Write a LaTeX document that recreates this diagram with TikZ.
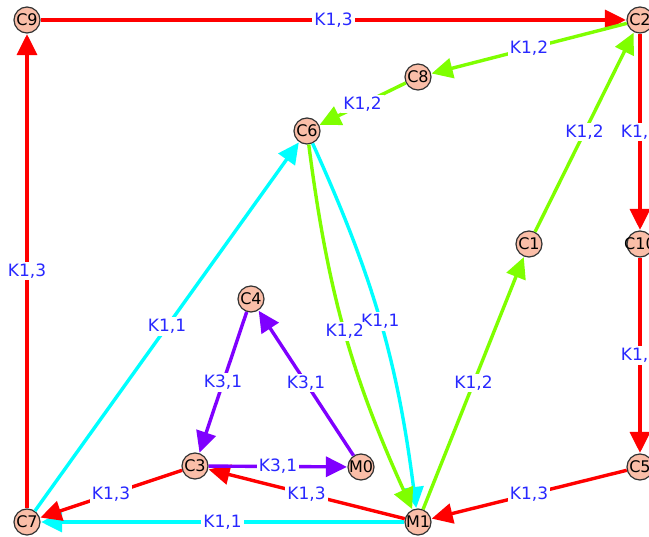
\documentclass[tikz,border=0pt]{standalone}
\usepackage{fontspec}
\setmainfont{DejaVu Sans}
\usetikzlibrary{arrows.meta}
\definecolor{nodefill}{RGB}{250,190,168}
\definecolor{lblblue}{RGB}{40,40,255}
\definecolor{ered}{RGB}{255,0,0}
\definecolor{egreen}{RGB}{127,255,0}
\definecolor{ecyan}{RGB}{0,255,255}
\definecolor{epurple}{RGB}{127,0,255}
\tikzset{
  x=1pt,y=-1pt,
  vnode/.style={circle,draw=black!80,line width=1.2pt,fill=nodefill,minimum size=26pt,inner sep=0pt,font=\fontsize{16}{16}\selectfont},
  edge/.style={line width=3.4pt,-{Triangle[length=21pt,width=20pt]},shorten >=0.5pt},
  lbl/.style={fill=white,text=lblblue,inner sep=2pt,font=\fontsize{17}{17}\selectfont,midway},
}
\newcommand{\vn}[1]{\makebox[0pt]{#1}}
\begin{document}
\begin{tikzpicture}
\useasboundingbox (0,0) rectangle (649,537);
\clip (0,0) rectangle (649,537);
\fill[white] (0,0) rectangle (649,537);
\node[vnode] (C9) at (27,20) {\vn{C9}};
\node[vnode] (C2) at (640,20) {\vn{C2}};
\node[vnode] (C8) at (418,77) {\vn{C8}};
\node[vnode] (C6) at (307,131) {\vn{C6}};
\node[vnode] (C1) at (529,244) {\vn{C1}};
\node[vnode] (C10) at (640,244) {\vn{C10}};
\node[vnode] (C4) at (251,299) {\vn{C4}};
\node[vnode] (C3) at (195,466) {\vn{C3}};
\node[vnode] (M0) at (361,467) {\vn{M0}};
\node[vnode] (C5) at (640,467) {\vn{C5}};
\node[vnode] (C7) at (27,522) {\vn{C7}};
\node[vnode] (M1) at (418,522) {\vn{M1}};
% edges
\draw[edge,ered] (C9) -- (C2) node[lbl] {K1,3};
\draw[edge,egreen] (C2) -- (C8) node[lbl] {K1,2};
\draw[edge,egreen] (C8) -- (C6) node[lbl] {K1,2};
\draw[edge,ered] (C2) -- (C10) node[lbl] {K1,3};
\draw[edge,ered] (C10) -- (C5) node[lbl] {K1,3};
\draw[edge,ered] (C5) -- (M1) node[lbl] {K1,3};
\draw[edge,egreen] (M1) -- (C1) node[lbl] {K1,2};
\draw[edge,egreen] (C1) -- (C2) node[lbl] {K1,2};
\draw[edge,ecyan] (C6) to[bend left=8.5] node[lbl] {K1,1} (M1);
\draw[edge,egreen] (C6) to[bend right=8.5] node[lbl] {K1,2} (M1);
\draw[edge,ecyan] (M1) -- (C7) node[lbl] {K1,1};
\draw[edge,ecyan] (C7) -- (C6) node[lbl] {K1,1};
\draw[edge,ered] (C7) -- (C9) node[lbl] {K1,3};
\draw[edge,ered] (C3) -- (C7) node[lbl] {K1,3};
\draw[edge,ered] (M1) -- (C3) node[lbl] {K1,3};
\draw[edge,epurple] (C3) -- (M0) node[lbl] {K3,1};
\draw[edge,epurple] (M0) -- (C4) node[lbl] {K3,1};
\draw[edge,epurple] (C4) -- (C3) node[lbl] {K3,1};
\end{tikzpicture}
\end{document}
